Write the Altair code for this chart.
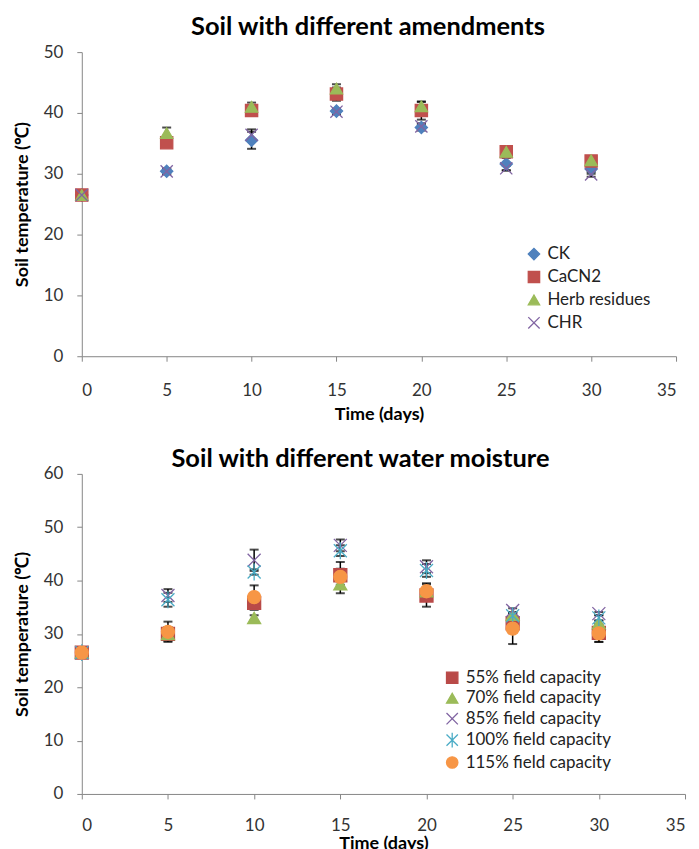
import altair as alt
import pandas as pd

FONT = "Lato"

days = [0, 5, 10, 15, 20, 25, 30]

# ---- Top chart: amendments ----
amend_names = ["CK", "CaCN2", "Herb residues", "CHR"]
ck = [26.5, 30.4, 35.5, 40.3, 37.6, 31.6, 30.8]
cacn2 = [26.5, 35.1, 40.4, 43.1, 40.4, 33.6, 32.1]
herb = [26.5, 36.7, 41.0, 44.0, 41.1, 33.6, 32.2]
chr_ = [26.5, 30.4, 36.4, 40.2, 37.8, 30.9, 29.9]
ck_err = [0.2, 0.5, 1.4, 0.4, 0.5, 1.0, 0.8]
cacn2_err = [0.2, 0.5, 0.6, 1.1, 1.5, 0.5, 0.5]
herb_err = [0.2, 0.9, 0.7, 0.7, 0.7, 0.5, 0.4]
chr_err = [0.2, 0.4, 0.9, 0.4, 0.5, 0.4, 0.4]
amend_colors = ["#4F81BD", "#C0504D", "#9BBB59", "#8064A2"]

# ---- Bottom chart: water moisture ----
moist_names = ["55% field capacity", "70% field capacity", "85% field capacity",
               "100% field capacity", "115% field capacity"]
fc55 = [26.5, 30.0, 35.8, 41.0, 37.2, 32.0, 30.2]
fc70 = [26.5, 30.0, 33.0, 39.3, 38.0, 33.6, 32.0]
fc85 = [26.5, 37.2, 43.8, 46.6, 42.6, 34.4, 33.8]
fc100 = [26.5, 36.4, 41.6, 45.6, 41.9, 33.4, 33.0]
fc115 = [26.5, 30.4, 36.9, 40.7, 38.0, 31.0, 30.1]
fc55_err = [0.2, 1.3, 1.3, 2.5, 2.1, 0.6, 1.7]
fc70_err = [0.2, 0.5, 0.5, 1.7, 0.6, 0.5, 0.5]
fc85_err = [0.2, 1.2, 2.0, 1.1, 1.2, 0.4, 0.3]
fc100_err = [0.2, 1.3, 0.5, 1.0, 1.2, 0.5, 0.5]
fc115_err = [0.2, 1.9, 2.2, 1.5, 1.5, 2.9, 1.6]
moist_colors = ["#B94A48", "#9BBB59", "#8064A2", "#4BACC6", "#F79646"]

X_PATH = "M-1,-1L1,1M-1,1L1,-1"
AST_PATH = "M-1,-1L1,1M-1,1L1,-1M0,-1.3L0,1.3"


def make_df(names, vals, errs):
    rows = []
    for n, v, e in zip(names, vals, errs):
        for d, y, s in zip(days, v, e):
            rows.append({"day": d, "series": n, "temp": y, "lo": y - s, "hi": y + s})
    return pd.DataFrame(rows)


def panel(df, names, colors, shapes, ymax, width, height, title, title_dx,
          title_offset, x_label_pad, x_title_pad, legend_x, legend_y, row_pad, size):
    xscale = alt.Scale(domain=[0, 35], nice=False)
    yscale = alt.Scale(domain=[0, ymax], nice=False)
    xaxis = alt.Axis(values=[0, 5, 10, 15, 20, 25, 30, 35], title="Time (days)",
                     format="d", grid=False, labelPadding=x_label_pad,
                     titlePadding=x_title_pad)
    yaxis = alt.Axis(values=list(range(0, ymax + 1, 10)),
                     title="Soil temperature (\u2103)", format="d", grid=False)
    leg = alt.Legend(title=None, orient="none", legendX=legend_x, legendY=legend_y,
                     labelFont=FONT, labelFontSize=17, labelColor="#222222",
                     symbolSize=130, symbolStrokeWidth=1.3, rowPadding=row_pad,
                     labelOffset=5, padding=0)
    base = alt.Chart(df)
    rule = base.mark_rule(color="black", strokeWidth=1.5).encode(
        x=alt.X("day:Q", scale=xscale, axis=xaxis),
        y=alt.Y("lo:Q", scale=yscale, axis=yaxis),
        y2="hi:Q",
    )
    cap_lo = base.mark_tick(color="black", orient="horizontal", size=9,
                            thickness=2).encode(
        x=alt.X("day:Q", scale=xscale), y=alt.Y("lo:Q", scale=yscale))
    cap_hi = base.mark_tick(color="black", orient="horizontal", size=9,
                            thickness=2).encode(
        x=alt.X("day:Q", scale=xscale), y=alt.Y("hi:Q", scale=yscale))
    cscale = alt.Scale(domain=names, range=colors)
    pts = base.mark_point(filled=True, opacity=1, size=size, strokeWidth=1.3).encode(
        x=alt.X("day:Q", scale=xscale),
        y=alt.Y("temp:Q", scale=yscale),
        color=alt.Color("series:N", scale=cscale, legend=leg, sort=names),
        stroke=alt.Stroke("series:N", scale=cscale, legend=leg, sort=names),
        shape=alt.Shape("series:N", scale=alt.Scale(domain=names, range=shapes),
                        legend=leg, sort=names),
    )
    return alt.layer(rule, cap_lo, cap_hi, pts).properties(
        width=width, height=height,
        title=alt.TitleParams(title, font=FONT, fontSize=25.5, fontWeight="bold",
                              color="black", anchor="middle", dx=title_dx,
                              offset=title_offset),
    )


df_top = make_df(amend_names, [ck, cacn2, herb, chr_],
                 [ck_err, cacn2_err, herb_err, chr_err])
df_bot = make_df(moist_names, [fc55, fc70, fc85, fc100, fc115],
                 [fc55_err, fc70_err, fc85_err, fc100_err, fc115_err])

top = panel(df_top, amend_names, amend_colors,
            ["diamond", "square", "triangle-up", X_PATH], 50, 596, 305,
            "Soil with different amendments", -11, 3, 21, 7, 445, 194, 5, 150)
bot = panel(df_bot, moist_names, moist_colors,
            ["square", "triangle-up", X_PATH, AST_PATH, "circle"], 60, 605, 321,
            "Soil with different water moisture", -23, -8, 19, 1, 363, 196, 2.5, 170)

chart = alt.vconcat(top, bot, spacing=24, background="white").resolve_scale(
    color="independent", stroke="independent", shape="independent"
).resolve_legend(
    color="independent", stroke="independent", shape="independent"
).configure_axis(
    grid=False, domainColor="#868686", tickColor="#868686", tickSize=5,
    labelFont=FONT, labelFontSize=17, labelColor="#333333", labelPadding=14,
    titleFont=FONT, titleFontSize=18, titleFontWeight="bold", titleColor="black",
).configure_axisY(
    titlePadding=12
).configure_view(
    stroke=None
)

chart.save("out.html", embed_options={"renderer": "svg", "actions": False})
